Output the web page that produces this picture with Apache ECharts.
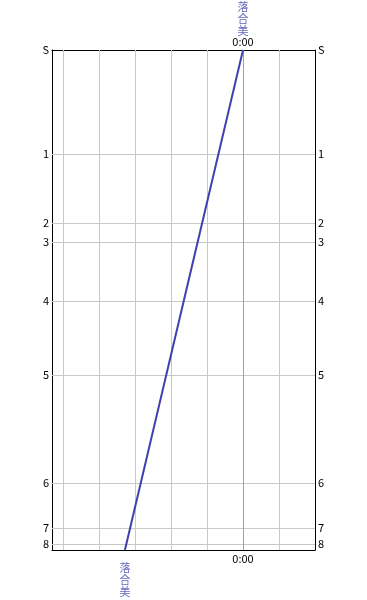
<!DOCTYPE html>
<html><head><meta charset="utf-8">
<script src="https://cdn.jsdelivr.net/npm/echarts@6/dist/echarts.min.js"></script>
<style>html,body{margin:0;padding:0;background:#fff}#c{width:367px;height:600px}</style>
</head><body><div id="c"></div>
<script>
// Stations (names) and their distance positions along the line
const stationNames = ['S','1','2','3','4','5','6','7','8'];
const stationPos   = [0, 104, 173, 192, 251, 325, 433, 478, 494];
// Time grid lines (minutes) and highlighted time
const timeGrid = [-50, -40, -30, -20, -10, 10];
const timeMain = 0;
const timeLabels = ['0:00'];
// Train run: [time (min), position]
const trainName = '落合美';
const trainRun = [[0, 0], [-32.8, 500]];

const FONT = '"Noto Sans CJK JP", "DejaVu Sans", sans-serif';
const chart = echarts.init(document.getElementById('c'));
const lbl = {fontFamily: FONT, fontSize: 11, color: '#000'};
function yAxisDef(pos) {
  return {
    type: 'value', inverse: true, min: 0, max: 500, position: pos,
    axisLine: {show: true, onZero: false, lineStyle: {color: '#000', width: 1}},
    axisTick: {show: false}, splitLine: {show: false},
    axisLabel: Object.assign({}, lbl, {
      customValues: stationPos, margin: 3,
      formatter: v => stationNames[stationPos.indexOf(v)]
    })
  };
}
function xAxisDef(pos) {
  return {
    type: 'value', min: -53.06, max: 20, position: pos,
    axisLine: {show: true, onZero: false, lineStyle: {color: '#000', width: 1}},
    axisTick: {show: false}, splitLine: {show: false},
    axisLabel: Object.assign({}, lbl, {
      customValues: [timeMain], margin: 3,
      formatter: () => timeLabels[0]
    })
  };
}
const vertName = trainName.split('').join('\n');
chart.setOption({
  animation: false,
  grid: {left: 52, top: 50, width: 263, height: 500, containLabel: false},
  xAxis: [xAxisDef('top'), xAxisDef('bottom')],
  yAxis: [yAxisDef('left'), yAxisDef('right')],
  series: [
    {
      type: 'line', data: [], silent: true,
      markLine: {
        silent: true, symbol: 'none', label: {show: false}, animation: false,
        data: timeGrid.map(t => ({xAxis: t, lineStyle: {color: '#c8c8c8', width: 1, type: 'solid'}}))
          .concat(stationPos.slice(1).map(p => ({yAxis: p, lineStyle: {color: '#c8c8c8', width: 1, type: 'solid'}})))
          .concat([{xAxis: timeMain, lineStyle: {color: '#a0a0a0', width: 1, type: 'solid'}}])
      }
    },
    {
      type: 'line', data: trainRun, symbol: 'none', z: 5,
      lineStyle: {color: '#4040b0', width: 2}
    },
    {
      type: 'scatter', symbolSize: 0, z: 6,
      data: [
        {value: trainRun[0], label: {show: true, position: 'top', distance: 13}},
        {value: trainRun[trainRun.length - 1], label: {show: true, position: 'bottom', distance: 12}}
      ],
      label: {
        formatter: vertName, fontFamily: FONT, fontSize: 11, lineHeight: 12,
        color: '#4040b0', align: 'center'
      }
    }
  ]
});
</script>
</body></html>
